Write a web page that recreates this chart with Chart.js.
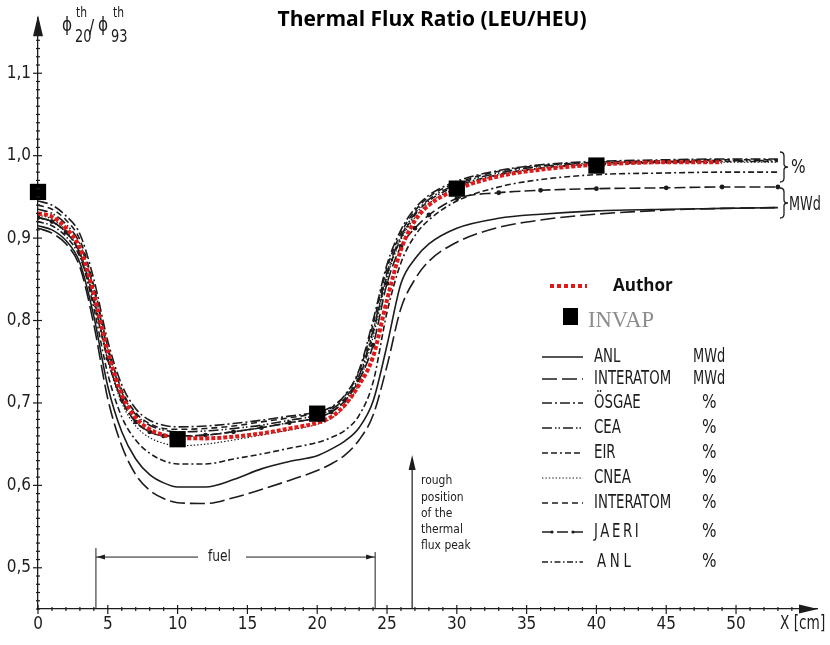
<!DOCTYPE html>
<html>
<head>
<meta charset="utf-8">
<title>Thermal Flux Ratio (LEU/HEU)</title>
<script src="https://cdn.jsdelivr.net/npm/chart.js@4.4.1/dist/chart.umd.min.js"></script>
<style>
  html, body { margin: 0; padding: 0; background: #fff; }
  #wrap { width: 830px; height: 645px; position: relative; }
</style>
</head>
<body>
<div id="wrap"><canvas id="fluxChart"></canvas></div>
<script>
// positions along the traverse, cm
const xCm = [0, 1, 2, 3, 4, 5, 6, 7, 8, 9, 10, 12, 14, 16, 18, 20, 21, 22, 23, 24, 25, 26, 27, 28, 30, 33, 36, 40, 45, 49, 53];

// flux ratio phi20/phi93 for each code, sampled at xCm
const author      = [0.930, 0.926, 0.912, 0.888, 0.832, 0.762, 0.710, 0.682, 0.668, 0.661, 0.658, 0.657, 0.659, 0.663, 0.669, 0.676, 0.683, 0.698, 0.722, 0.756, 0.825, 0.886, 0.921, 0.940, 0.959, 0.975, 0.983, 0.989, 0.992, 0.992, null];
const anlMWd      = [0.915, 0.910, 0.897, 0.870, 0.805, 0.720, 0.665, 0.632, 0.613, 0.603, 0.598, 0.598, 0.607, 0.620, 0.629, 0.636, 0.644, 0.654, 0.670, 0.702, 0.770, 0.845, 0.875, 0.893, 0.912, 0.924, 0.929, 0.933, 0.935, 0.936, 0.937];
const interatomMWd= [0.912, 0.906, 0.893, 0.865, 0.795, 0.705, 0.648, 0.613, 0.594, 0.584, 0.579, 0.578, 0.585, 0.595, 0.606, 0.618, 0.626, 0.637, 0.655, 0.685, 0.745, 0.815, 0.850, 0.872, 0.895, 0.913, 0.922, 0.929, 0.934, 0.936, 0.937];
const osgae       = [0.945, 0.940, 0.927, 0.905, 0.850, 0.775, 0.722, 0.693, 0.679, 0.673, 0.671, 0.672, 0.675, 0.679, 0.684, 0.689, 0.695, 0.710, 0.740, 0.800, 0.868, 0.910, 0.936, 0.952, 0.969, 0.982, 0.989, 0.993, 0.995, 0.996, 0.996];
const cea         = [0.935, 0.930, 0.917, 0.893, 0.838, 0.765, 0.713, 0.686, 0.673, 0.667, 0.665, 0.666, 0.669, 0.673, 0.679, 0.685, 0.692, 0.706, 0.733, 0.788, 0.858, 0.902, 0.930, 0.947, 0.965, 0.979, 0.987, 0.991, 0.993, 0.994, 0.994];
const eir         = [0.925, 0.920, 0.907, 0.880, 0.815, 0.735, 0.683, 0.655, 0.639, 0.630, 0.626, 0.626, 0.632, 0.638, 0.645, 0.652, 0.658, 0.667, 0.685, 0.725, 0.810, 0.870, 0.903, 0.922, 0.945, 0.962, 0.971, 0.977, 0.979, 0.980, 0.980];
const cnea        = [0.928, 0.923, 0.909, 0.883, 0.825, 0.752, 0.700, 0.672, 0.658, 0.651, 0.648, 0.650, 0.655, 0.661, 0.667, 0.674, 0.681, 0.696, 0.724, 0.780, 0.852, 0.898, 0.925, 0.942, 0.961, 0.976, 0.984, 0.989, 0.991, 0.992, 0.992];
const interatomPc = [0.940, 0.935, 0.922, 0.898, 0.842, 0.768, 0.716, 0.688, 0.675, 0.669, 0.668, 0.669, 0.672, 0.677, 0.682, 0.688, 0.694, 0.709, 0.738, 0.795, 0.864, 0.906, 0.933, 0.950, 0.967, 0.981, 0.988, 0.992, 0.994, 0.995, 0.995];
const jaeri       = [0.925, 0.920, 0.907, 0.882, 0.826, 0.754, 0.704, 0.677, 0.665, 0.660, 0.660, 0.661, 0.665, 0.670, 0.676, 0.682, 0.689, 0.703, 0.728, 0.770, 0.845, 0.890, 0.912, 0.928, 0.948, 0.955, 0.958, 0.960, 0.961, 0.962, 0.962];
const anlPc       = [0.920, 0.915, 0.902, 0.877, 0.822, 0.752, 0.703, 0.677, 0.665, 0.660, 0.659, 0.661, 0.665, 0.670, 0.676, 0.682, 0.689, 0.703, 0.730, 0.785, 0.855, 0.900, 0.928, 0.945, 0.963, 0.977, 0.985, 0.990, 0.992, 0.993, 0.993];

// INVAP reference points
const invapX = [0, 10, 20, 30, 40];
const invapY = [0.956, 0.656, 0.687, 0.960, 0.988];

const yTicks = [0.5, 0.6, 0.7, 0.8, 0.9, 1.0, 1.1];
const xTicks = [0, 5, 10, 15, 20, 25, 30, 35, 40, 45, 50];

const INK = '#1c1c1c';
const NARROW = "'DejaVu Sans Condensed', 'DejaVu Sans', sans-serif";

function series(values) {
  return values.map((v, i) => ({ x: xCm[i], y: v })).filter(p => p.y !== null);
}

function curve(label, unit, values, dash, extra) {
  return Object.assign({
    label: label,
    unit: unit,
    data: series(values),
    borderColor: INK,
    backgroundColor: INK,
    borderWidth: 1.6,
    borderDash: dash,
    pointRadius: 0,
    cubicInterpolationMode: 'monotone',
    fill: false
  }, extra || {});
}

// squeezed lettering, like the stencil text on the drawing
function narrowText(ctx, text, x, y, size, sx, spacing) {
  ctx.save();
  ctx.translate(x, y);
  ctx.scale(sx, 1);
  ctx.font = size + 'px ' + NARROW;
  ctx.letterSpacing = (spacing || 0) + 'px';
  ctx.fillText(text, 0, 0);
  ctx.restore();
}

function arrowHead(ctx, x, y, dir, len, half) {
  ctx.beginPath();
  if (dir === 'up') {
    ctx.moveTo(x, y); ctx.lineTo(x - half, y + len); ctx.lineTo(x + half, y + len);
  } else if (dir === 'right') {
    ctx.moveTo(x, y); ctx.lineTo(x - len, y - half); ctx.lineTo(x - len, y + half);
  } else {
    ctx.moveTo(x, y); ctx.lineTo(x + len, y - half); ctx.lineTo(x + len, y + half);
  }
  ctx.closePath();
  ctx.fill();
}

function brace(ctx, x, y1, y2) {
  const ym = (y1 + y2) / 2;
  ctx.beginPath();
  ctx.moveTo(x, y1);
  ctx.quadraticCurveTo(x + 4, y1, x + 4, y1 + 4);
  ctx.lineTo(x + 4, ym - 3);
  ctx.quadraticCurveTo(x + 4, ym, x + 8, ym);
  ctx.quadraticCurveTo(x + 4, ym, x + 4, ym + 3);
  ctx.lineTo(x + 4, y2 - 4);
  ctx.quadraticCurveTo(x + 4, y2, x, y2);
  ctx.stroke();
}

// axis arrows, minor ticks, annotations, legend and title
const decorations = {
  id: 'decorations',
  afterDraw(chart) {
    const ctx = chart.ctx;
    const xs = chart.scales.x, ys = chart.scales.y;
    const area = chart.chartArea;
    const x0 = area.left, yb = area.bottom;

    ctx.save();
    ctx.strokeStyle = INK;
    ctx.fillStyle = INK;
    ctx.lineWidth = 1.2;
    ctx.textBaseline = 'middle';
    ctx.textAlign = 'left';

    // y axis ticks
    for (let i = 45; i <= 116; i++) {
      const py = ys.getPixelForValue(i / 100);
      const major = i % 10 === 0;
      ctx.beginPath();
      ctx.moveTo(x0 - (major ? 5 : 2), py);
      ctx.lineTo(x0 + (major ? 4 : 2), py);
      ctx.stroke();
    }
    // x axis ticks
    for (let i = 0; i <= 54; i++) {
      const px = xs.getPixelForValue(i);
      const major = i % 5 === 0;
      ctx.beginPath();
      ctx.moveTo(px, yb - (major ? 4 : 2));
      ctx.lineTo(px, yb + (major ? 5 : 2));
      ctx.stroke();
    }
    arrowHead(ctx, x0, area.top - 2, 'up', 21, 5);
    arrowHead(ctx, area.right + 1, yb, 'right', 19, 4.5);

    narrowText(ctx, 'X [cm]', 780, 624, 19, 0.8);

    // y axis quantity
    narrowText(ctx, '\u03D5', 62, 26, 20, 0.85);
    narrowText(ctx, '/', 89, 28, 20, 0.85);
    narrowText(ctx, '\u03D5', 98, 26, 20, 0.85);
    narrowText(ctx, 'th', 76, 13, 14, 0.85);
    narrowText(ctx, 'th', 113, 13, 14, 0.85);
    narrowText(ctx, '20', 75, 37, 18, 0.8);
    narrowText(ctx, '93', 111, 37, 18, 0.8);

    // fuel extent
    const fL = xs.getPixelForValue(4.15), fR = xs.getPixelForValue(24.15);
    const fy = ys.getPixelForValue(0.513);
    ctx.lineWidth = 1;
    ctx.beginPath();
    ctx.moveTo(fL, yb); ctx.lineTo(fL, fy - 9);
    ctx.moveTo(fR, yb); ctx.lineTo(fR, fy - 5);
    ctx.moveTo(fL, fy); ctx.lineTo(198, fy);
    ctx.moveTo(246, fy); ctx.lineTo(fR, fy);
    ctx.stroke();
    arrowHead(ctx, fL + 1, fy, 'left', 8, 2.5);
    arrowHead(ctx, fR - 1, fy, 'right', 8, 2.5);
    narrowText(ctx, 'fuel', 208, fy, 16, 0.85);

    // thermal flux peak marker
    const pk = xs.getPixelForValue(26.8);
    ctx.lineWidth = 1.2;
    ctx.beginPath();
    ctx.moveTo(pk, yb); ctx.lineTo(pk, 468);
    ctx.stroke();
    arrowHead(ctx, pk, 455, 'up', 15, 3.5);
    ['rough', 'position', 'of the', 'thermal', 'flux peak'].forEach((t, i) => {
      narrowText(ctx, t, 421, 481 + i * 16.2, 13, 0.92);
    });

    // burnup groups at the right end
    ctx.lineWidth = 1.3;
    brace(ctx, 780, 152, 182);
    brace(ctx, 780, 188, 218);
    narrowText(ctx, '%', 791, 168, 19, 0.9);
    narrowText(ctx, 'MWd', 789, 205, 19, 0.75);

    // legend
    ctx.strokeStyle = '#e01818';
    ctx.lineWidth = 4;
    ctx.setLineDash([4, 3]);
    ctx.beginPath(); ctx.moveTo(550, 286); ctx.lineTo(587, 286); ctx.stroke();
    ctx.setLineDash([]);
    ctx.fillStyle = '#111';
    ctx.font = "bold 17px 'Open Sans', sans-serif";
    ctx.fillText('Author', 613, 286);
    ctx.fillStyle = '#000';
    ctx.fillRect(563, 308, 15, 17);
    ctx.fillStyle = '#8c8c8c';
    ctx.font = "23px 'Liberation Serif', serif";
    ctx.textBaseline = 'alphabetic';
    ctx.fillText('INVAP', 588, 327, 66);
    ctx.textBaseline = 'middle';

    const rowsY = [357, 379, 403, 428, 453, 478, 503, 532, 562];
    const coded = chart.data.datasets.filter(d => d.unit);
    coded.forEach((d, i) => {
      const y = rowsY[i];
      ctx.strokeStyle = INK;
      ctx.fillStyle = INK;
      ctx.lineWidth = d.borderWidth;
      ctx.setLineDash(d.borderDash || []);
      ctx.beginPath(); ctx.moveTo(542, y); ctx.lineTo(583, y); ctx.stroke();
      ctx.setLineDash([]);
      if (d.pointRadius) {
        [552, 573].forEach(px => {
          ctx.beginPath(); ctx.arc(px, y, d.pointRadius, 0, Math.PI * 2); ctx.fill();
        });
      }
      const spaced = d.label === 'JAERI' ? 3.5 : (i === coded.length - 1 ? 5 : 0);
      narrowText(ctx, d.label, i === coded.length - 1 ? 597 : 594, y, 20, 0.74, spaced);
      if (d.unit === 'MWd') narrowText(ctx, 'MWd', 693, y, 20, 0.72);
      else narrowText(ctx, '%', 702, y, 20, 0.85);
    });

    // title
    ctx.fillStyle = '#000';
    ctx.textAlign = 'center';
    ctx.font = "bold 21px 'Open Sans', sans-serif";
    ctx.fillText('Thermal Flux Ratio (LEU/HEU)', 432, 20);
    ctx.restore();
  }
};

const datasets = [
  {
    label: 'INVAP',
    data: invapX.map((x, i) => ({ x: x, y: invapY[i] })),
    showLine: false,
    pointStyle: 'rect',
    pointRadius: 11.5,
    pointBackgroundColor: '#000',
    pointBorderColor: '#000',
    pointBorderWidth: 0,
    clip: false
  },
  curve('Author', null, author, [4, 2], { borderColor: '#e01818', borderWidth: 4 }),
  curve('ANL', 'MWd', anlMWd, []),
  curve('INTERATOM', 'MWd', interatomMWd, [15, 5]),
  curve('\u00D6SGAE', '%', osgae, [10, 3, 2, 3]),
  curve('CEA', '%', cea, [10, 3, 1.5, 2, 1.5, 3]),
  curve('EIR', '%', eir, [6, 3, 6, 3, 2, 3]),
  curve('CNEA', '%', cnea, [1.4, 2], { borderWidth: 1.2 }),
  curve('INTERATOM', '%', interatomPc, [6, 4]),
  curve('JAERI', '%', jaeri, [11, 4], { pointRadius: 1.6 }),
  curve('ANL', '%', anlPc, [6, 2.5, 1.5, 2.5])
];

new Chart(document.getElementById('fluxChart'), {
  type: 'line',
  data: { datasets: datasets },
  plugins: [decorations],
  options: {
    responsive: true,
    maintainAspectRatio: false,
    animation: false,
    layout: { padding: { top: 12, right: 13, left: 0, bottom: 0 } },
    plugins: {
      legend: { display: false },
      tooltip: { enabled: false },
      title: { display: false }
    },
    scales: {
      x: {
        type: 'linear',
        min: 0,
        max: 55.8,
        afterBuildTicks: s => { s.ticks = xTicks.map(v => ({ value: v })); },
        afterFit: s => { s.height = 36; },
        grid: { display: false, drawTicks: false },
        border: { display: true, color: INK, width: 1.3 },
        ticks: {
          autoSkip: false,
          maxRotation: 0,
          padding: 5,
          color: INK,
          font: { family: NARROW, size: 17 },
          callback: v => String(v)
        }
      },
      y: {
        type: 'linear',
        min: 0.45,
        max: 1.168,
        afterBuildTicks: s => { s.ticks = yTicks.map(v => ({ value: v })); },
        afterFit: s => { s.width = 38; },
        grid: { display: false, drawTicks: false },
        border: { display: true, color: INK, width: 1.3 },
        ticks: {
          autoSkip: false,
          padding: 7,
          color: INK,
          font: { family: NARROW, size: 17 },
          callback: v => v.toFixed(1).replace('.', ',')
        }
      }
    }
  }
});
</script>
</body>
</html>
